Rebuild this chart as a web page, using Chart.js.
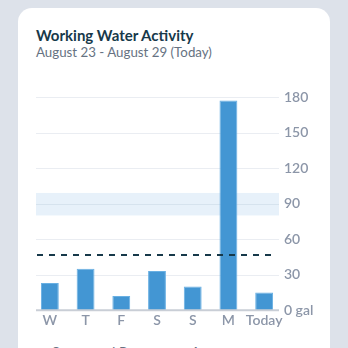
<!DOCTYPE html>
<html>
<head>
<meta charset="utf-8">
<script src="https://cdn.jsdelivr.net/npm/chart.js@4"></script>
<style>
  html, body { margin: 0; padding: 0; }
  body {
    width: 348px; height: 348px; overflow: hidden;
    background: #dde2ea;
    font-family: Lato, "Open Sans", sans-serif;
  }
  .card {
    position: absolute; left: 18px; top: 8px;
    width: 312px; height: 420px;
    background: #fff; border-radius: 14px;
  }
  .title {
    position: absolute; left: 18px; top: 18px;
    font-size: 15px; font-weight: 700; color: #17394a;
  }
  .subtitle {
    position: absolute; left: 18px; top: 36px;
    font-size: 13.3px; color: #667282;
  }
  .chart-box {
    position: absolute; left: 0; top: 72px;
    width: 312px; height: 255px;
  }
  .legend {
    position: absolute; left: 23px; top: 333px;
    font-size: 14px; color: #667282; white-space: nowrap;
  }
  .legend span { display: inline-block; vertical-align: middle; }
  .sw-range { width: 6px; height: 6px; background: #cfe4f5; margin-right: 5px; }
  .sw-avg { width: 14px; border-top: 2px dashed #17394a; margin: 0 6px 0 14px; }
</style>
</head>
<body>
<div class="card">
  <div class="title">Working Water Activity</div>
  <div class="subtitle">August 23 - August 29 (Today)</div>
  <div class="chart-box"><canvas id="waterChart" width="312" height="255"></canvas></div>
  <div class="legend"><span class="sw-range"></span><span>Suggested Range</span><span class="sw-avg"></span><span>Average</span></div>
</div>
<script>
const days = ['W', 'T', 'F', 'S', 'S', 'M', 'Today'];
const gallons = [23, 35, 12, 33, 20, 177, 15];
const suggestedRange = [80, 99];
const averageGallons = 46.5;
const yTicks = [0, 30, 60, 90, 120, 150, 180];

// band, gridlines, baseline and the average line, drawn from the y scale
const overlays = {
    id: 'overlays',
    beforeDatasetsDraw(chart) {
        const ctx = chart.ctx;
        const y = chart.scales.y;
        const left = chart.chartArea.left + 4;
        const right = chart.chartArea.right - 3;
        ctx.save();
        ctx.fillStyle = '#e7f1fa';
        const top = y.getPixelForValue(suggestedRange[1]);
        const bot = y.getPixelForValue(suggestedRange[0]);
        ctx.fillRect(left, top, right - left, bot - top);
        ctx.lineWidth = 1;
        yTicks.forEach(v => {
            if (v === 0) return;
            const py = Math.round(y.getPixelForValue(v)) + 0.5;
            ctx.strokeStyle = (v >= suggestedRange[0] && v <= suggestedRange[1]) ? '#d6e3ee' : '#eaedf2';
            ctx.beginPath();
            ctx.moveTo(left, py);
            ctx.lineTo(right, py);
            ctx.stroke();
        });
        ctx.restore();
    },
    afterDatasetsDraw(chart) {
        const ctx = chart.ctx;
        const y = chart.scales.y;
        const left = chart.chartArea.left + 4;
        const right = chart.chartArea.right - 3;
        ctx.save();
        const py0 = y.getPixelForValue(0);
        ctx.strokeStyle = '#c9ced6';
        ctx.lineWidth = 2;
        ctx.beginPath();
        ctx.moveTo(left, py0);
        ctx.lineTo(right, py0);
        ctx.stroke();

        const pa = y.getPixelForValue(averageGallons);
        ctx.strokeStyle = '#17394a';
        ctx.setLineDash([6, 6]);
        ctx.beginPath();
        ctx.moveTo(left + 1, pa);
        ctx.lineTo(right - 3, pa);
        ctx.stroke();
        ctx.restore();
    }
};

new Chart(document.getElementById('waterChart'), {
    type: 'bar',
    data: {
        labels: days,
        datasets: [{
            label: 'Gallons',
            data: gallons,
            backgroundColor: '#4396d3',
            borderColor: '#69b0e3',
            borderWidth: 1,
            categoryPercentage: 1,
            barPercentage: 0.5
        }]
    },
    options: {
        responsive: false,
        animation: false,
        layout: { padding: { left: 14, right: 0, top: 17, bottom: 4 } },
        plugins: { legend: { display: false }, tooltip: { enabled: false } },
        scales: {
            x: {
                grid: { display: false, drawTicks: false, tickLength: 0 },
                border: { display: false },
                ticks: {
                    color: '#8c96a8', padding: 2,
                    maxRotation: 0, minRotation: 0, autoSkip: false,
                    font: { family: 'Lato', size: 14, weight: '600' }
                }
            },
            y: {
                position: 'right',
                min: 0, max: 180,
                afterFit(scale) { scale.width = 48; },
                grid: { display: false, drawTicks: false, tickLength: 0 },
                border: { display: false },
                ticks: {
                    stepSize: 30, padding: 2,
                    color: '#8c96a8',
                    font: { family: 'Lato', size: 14, weight: '600' },
                    callback: v => v === 0 ? '0 gal' : v
                }
            }
        }
    },
    plugins: [overlays]
});
</script>
</body>
</html>
